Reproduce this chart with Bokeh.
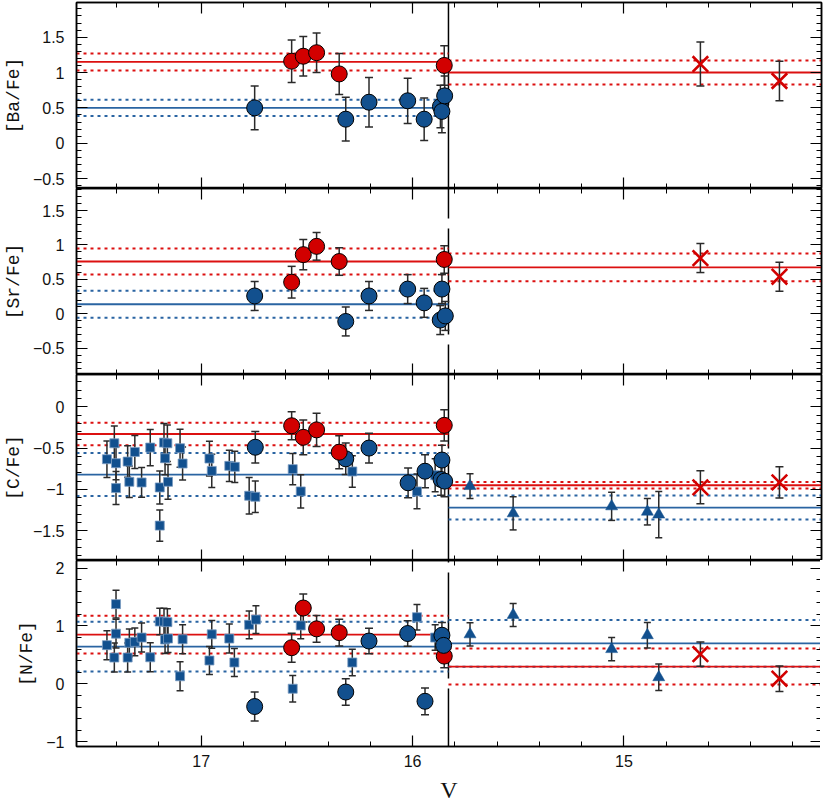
from bokeh.plotting import figure
from bokeh.layouts import column
from bokeh.models import (Range1d, LinearAxis, SingleIntervalTicker,
                          CustomJSTickFormatter)
from bokeh.embed import file_html
from bokeh.resources import INLINE

# ---------------- data ----------------
V_LEFT, V_RIGHT = 17.59, 14.065     # x range (V, reversed)
V_SPLIT = 15.83                      # dashed separator

x_ticks_interval = 1.0
panel_labels = ["[Ba/Fe]", "[Sr/Fe]", "[C/Fe]", "[N/Fe]"]
panel_yranges = [(-0.64, 1.99), (-0.88, 1.82), (-1.86, 0.39), (-1.08, 2.13)]
panel_tick_interval = [0.5, 0.5, 0.5, 1.0]

# red filled circles (same stars in every panel)
red_circ_V = [16.572, 16.517, 16.454, 16.347, 15.850]
ba_red = [1.16, 1.23, 1.28, 0.98, 1.10]
ba_red_err = [0.30, 0.28, 0.28, 0.29, 0.28]
sr_red = [0.46, 0.86, 0.98, 0.76, 0.79]
sr_red_err = [0.23, 0.22, 0.20, 0.20, 0.20]
c_red = [-0.23, -0.37, -0.28, -0.55, -0.225]
c_red_err = [0.17, 0.21, 0.20, 0.20, 0.19]
n_red = [0.625, 1.31, 0.95, 0.885, 0.48]
n_red_err = [0.25, 0.24, 0.23, 0.23, 0.20]

# blue filled circles
ba_blue_V = [16.747, 16.316, 16.206, 16.023, 15.945, 15.868, 15.861, 15.848]
ba_blue = [0.50, 0.34, 0.58, 0.60, 0.34, 0.52, 0.45, 0.67]
ba_blue_err = [0.31, 0.31, 0.35, 0.32, 0.30, 0.30, 0.30, 0.28]
sr_blue_V = [16.747, 16.316, 16.206, 16.023, 15.945, 15.861, 15.869, 15.845]
sr_blue = [0.26, -0.11, 0.26, 0.36, 0.16, 0.36, -0.09, -0.03]
sr_blue_err = [0.21, 0.21, 0.21, 0.21, 0.21, 0.21, 0.21, 0.21]
c_blue_V = [16.744, 16.316, 16.206, 16.021, 15.941, 15.861, 15.865, 15.848]
c_blue = [-0.49, -0.63, -0.50, -0.92, -0.78, -0.645, -0.88, -0.90]
c_blue_err = [0.19, 0.19, 0.18, 0.18, 0.20, 0.18, 0.19, 0.19]
n_blue_V = [16.747, 16.316, 16.206, 16.023, 15.941, 15.861, 15.853]
n_blue = [-0.39, -0.14, 0.74, 0.87, -0.30, 0.84, 0.665]
n_blue_err = [0.25, 0.23, 0.22, 0.22, 0.23, 0.22, 0.22]

# blue squares (fainter stars)
c_sq_V = [17.446, 17.411, 17.403, 17.403, 17.348, 17.340, 17.314, 17.282,
          17.241, 17.196, 17.196, 17.176, 17.171, 17.160, 17.157, 17.100,
          17.088, 16.961, 16.950, 16.867, 16.841, 16.773, 16.744, 16.567,
          16.529, 16.285, 15.979, 15.893]
c_sq = [-0.635, -0.442, -0.683, -0.984, -0.663, -0.908, -0.547, -0.916,
        -0.494, -0.976, -1.438, -0.434, -0.623, -0.442, -0.908, -0.502,
        -0.687, -0.627, -0.776, -0.715, -0.727, -1.077, -1.089, -0.755,
        -1.024, -0.783, -1.024, -0.828]
c_sq_err = [0.22, 0.21, 0.20, 0.20, 0.19, 0.19, 0.20, 0.18, 0.22, 0.20,
            0.19, 0.23, 0.20, 0.22, 0.21, 0.23, 0.20, 0.21, 0.20, 0.19,
            0.19, 0.22, 0.19, 0.19, 0.20, 0.19, 0.21, 0.20]
n_sq_V = [17.446, 17.411, 17.403, 17.403, 17.348, 17.340, 17.314, 17.282,
          17.241, 17.196, 17.176, 17.171, 17.160, 17.157, 17.100, 17.088,
          16.961, 16.950, 16.867, 16.843, 16.773, 16.741, 16.567, 16.529,
          16.285, 15.979, 15.893]
n_sq = [0.669, 0.455, 1.377, 0.868, 0.455, 0.709, 0.726, 0.80, 0.46, 1.077,
        1.077, 0.766, 1.066, 0.783, 0.132, 0.771, 0.404, 0.856, 0.783, 0.37,
        1.02, 1.11, -0.083, 1.009, 0.37, 1.151, 0.80]
n_sq_err = [0.25, 0.25, 0.24, 0.25, 0.25, 0.24, 0.24, 0.25, 0.25, 0.23,
            0.23, 0.24, 0.23, 0.24, 0.25, 0.25, 0.24, 0.24, 0.25, 0.24,
            0.24, 0.24, 0.23, 0.23, 0.23, 0.22, 0.22]

# blue triangles (brighter stars)
tri_V = [15.728, 15.524, 15.058, 14.889, 14.835]
c_tri = [-0.96, -1.29, -1.205, -1.27, -1.305]
c_tri_err = [0.15, 0.20, 0.17, 0.16, 0.28]
n_tri = [0.855, 1.19, 0.60, 0.84, 0.115]
n_tri_err = [0.20, 0.20, 0.20, 0.22, 0.23]

# red crosses (bright stars)
x_V = [14.638, 14.264]
ba_x = [1.12, 0.88]
ba_x_err = [0.31, 0.28]
sr_x = [0.81, 0.54]
sr_x_err = [0.21, 0.21]
c_x = [-0.975, -0.915]
c_x_err = [0.20, 0.19]
n_x = [0.515, 0.09]
n_x_err = [0.21, 0.22]

# mean lines (mean, sigma) : left part (faint) and right part (bright)
ba_means = {"red_left": (1.15, 0.12), "blue_left": (0.50, 0.115), "red_right": (1.00, 0.17)}
sr_means = {"red_left": (0.76, 0.19), "blue_left": (0.14, 0.195), "red_right": (0.675, 0.20)}
c_means = {"red_left": (-0.33, 0.135), "blue_left": (-0.82, 0.26),
           "red_right": (-0.95, 0.04), "blue_right": (-1.22, 0.145)}
n_means = {"blue_left": (0.645, 0.43), "red_left": (0.85, 0.325),
           "blue_right": (0.70, 0.405), "red_right": (0.30, 0.31)}

# ---------------- style ----------------
BLUE = "#12508e"
RED = "#d20000"
BLUE_LINE = "#2a64a2"
RED_LINE = "#dc1010"
ERR = "#2a2a2a"
FW, FH = 745, 186
dash_offsets = [3, 76, 32, 104]

fmt_code = """
const v = Math.round(tick*100)/100;
if (v == 0) return "0";
return (v < 0 ? "\u2212" : "") + Math.abs(v).toString();
"""


def style_axis(ax, show_labels):
    ax.axis_line_color = "black"
    ax.axis_line_width = 1.5
    ax.major_tick_line_color = "black"
    ax.major_tick_line_width = 1.2
    ax.minor_tick_line_color = "black"
    ax.minor_tick_line_width = 1.0
    ax.major_tick_in = 11
    ax.major_tick_out = 0
    ax.minor_tick_in = 5
    ax.minor_tick_out = 0
    if not show_labels:
        ax.formatter = CustomJSTickFormatter(code='return "";')
        ax.major_label_text_font_size = "1px"
        ax.major_label_standoff = 0
    else:
        ax.formatter = CustomJSTickFormatter(code=fmt_code)
        ax.major_label_text_font = "Liberation Sans"
        ax.major_label_text_font_size = "16px"
        ax.major_label_text_color = "#111111"


def errbars(p, xs, ys, es, cap=8):
    lo = [y - e for y, e in zip(ys, es)]
    hi = [y + e for y, e in zip(ys, es)]
    p.segment(x0=xs, y0=lo, x1=xs, y1=hi, line_color=ERR, line_width=1.5)
    p.scatter(x=xs + xs, y=lo + hi, marker="dash", size=cap,
              line_color=ERR, line_width=1.5)


def mean_lines(p, means):
    spans = {"left": (V_LEFT, V_SPLIT), "right": (V_SPLIT, V_RIGHT)}
    for key, (m, s) in means.items():
        col, side = key.split("_")
        c = RED_LINE if col == "red" else BLUE_LINE
        x0, x1 = spans[side]
        p.segment(x0=[x0, x0], y0=[m + s, m - s], x1=[x1, x1], y1=[m + s, m - s],
                  line_color=c, line_width=2, line_dash="3 4")
        p.segment(x0=[x0], y0=[m], x1=[x1], y1=[m], line_color=c, line_width=1.8)


def make_panel(i, is_bottom):
    y0, y1 = panel_yranges[i]
    p = figure(frame_width=FW, frame_height=FH,
               x_range=Range1d(V_LEFT, V_RIGHT), y_range=Range1d(y0, y1),
               output_backend="svg", toolbar_location=None,
               x_axis_location=None, y_axis_location=None,
               min_border_left=72, min_border_right=3,
               min_border_top=2 if i == 0 else 0, min_border_bottom=0)
    p.outline_line_color = "black"
    p.outline_line_width = 1.5
    p.background_fill_color = "white"
    p.border_fill_color = "white"
    p.xgrid.grid_line_color = None
    p.ygrid.grid_line_color = None
    p.grid.visible = False

    left = LinearAxis(ticker=SingleIntervalTicker(interval=panel_tick_interval[i], num_minor_ticks=5),
                      axis_label=panel_labels[i])
    style_axis(left, True)
    left.major_label_standoff = 12
    left.axis_label_standoff = 6
    left.axis_label_text_font = "Liberation Mono"
    left.axis_label_text_font_size = "18px"
    left.axis_label_text_font_style = "normal"
    left.axis_label_text_color = "#111111"
    p.add_layout(left, "left")

    right = LinearAxis(ticker=SingleIntervalTicker(interval=panel_tick_interval[i], num_minor_ticks=5))
    style_axis(right, False)
    p.add_layout(right, "right")

    top = LinearAxis(ticker=SingleIntervalTicker(interval=x_ticks_interval, num_minor_ticks=5))
    style_axis(top, False)
    p.add_layout(top, "above")

    bottom = LinearAxis(ticker=SingleIntervalTicker(interval=x_ticks_interval, num_minor_ticks=5))
    if is_bottom:
        style_axis(bottom, True)
        bottom.major_label_standoff = 8
        bottom.axis_label = "V"
        bottom.axis_label_standoff = 7
        bottom.axis_label_text_font = "Liberation Serif"
        bottom.axis_label_text_font_size = "24px"
        bottom.axis_label_text_font_style = "normal"
        bottom.axis_label_text_color = "#111111"
    else:
        style_axis(bottom, False)
    p.add_layout(bottom, "below")

    # dashed vertical separator, drawn from the top of the panel downwards
    p.segment(x0=[V_SPLIT], y0=[y1], x1=[V_SPLIT], y1=[y0], line_color="black",
              line_width=1.5, line_dash="106 10", line_dash_offset=dash_offsets[i])
    return p


panels = [make_panel(i, i == 3) for i in range(4)]

# ---- panel 1: Ba ----
p = panels[0]
mean_lines(p, ba_means)
errbars(p, ba_blue_V, ba_blue, ba_blue_err)
errbars(p, red_circ_V, ba_red, ba_red_err)
errbars(p, x_V, ba_x, ba_x_err)
p.scatter(ba_blue_V, ba_blue, marker="circle", size=16, fill_color=BLUE, line_color="black", line_width=1)
p.scatter(red_circ_V, ba_red, marker="circle", size=16, fill_color=RED, line_color="black", line_width=1)
p.scatter(x_V, ba_x, marker="x", size=22, line_color=RED, line_width=2.6)

# ---- panel 2: Sr ----
p = panels[1]
mean_lines(p, sr_means)
errbars(p, sr_blue_V, sr_blue, sr_blue_err)
errbars(p, red_circ_V, sr_red, sr_red_err)
errbars(p, x_V, sr_x, sr_x_err)
p.scatter(sr_blue_V, sr_blue, marker="circle", size=16, fill_color=BLUE, line_color="black", line_width=1)
p.scatter(red_circ_V, sr_red, marker="circle", size=16, fill_color=RED, line_color="black", line_width=1)
p.scatter(x_V, sr_x, marker="x", size=22, line_color=RED, line_width=2.6)

# ---- panel 3: C ----
p = panels[2]
mean_lines(p, c_means)
errbars(p, c_sq_V, c_sq, c_sq_err, cap=7)
errbars(p, tri_V, c_tri, c_tri_err, cap=7)
errbars(p, c_blue_V, c_blue, c_blue_err)
errbars(p, red_circ_V, c_red, c_red_err)
errbars(p, x_V, c_x, c_x_err)
p.scatter(c_sq_V, c_sq, marker="square", size=9, fill_color=BLUE, line_color="#7b9cc2", line_width=0.8)
p.scatter(tri_V, c_tri, marker="triangle", size=12, fill_color=BLUE, line_color=BLUE, line_width=0.5)
p.scatter(c_blue_V, c_blue, marker="circle", size=16, fill_color=BLUE, line_color="black", line_width=1)
p.scatter(red_circ_V, c_red, marker="circle", size=16, fill_color=RED, line_color="black", line_width=1)
p.scatter(x_V, c_x, marker="x", size=22, line_color=RED, line_width=2.6)

# ---- panel 4: N ----
p = panels[3]
mean_lines(p, n_means)
errbars(p, n_sq_V, n_sq, n_sq_err, cap=7)
errbars(p, tri_V, n_tri, n_tri_err, cap=7)
errbars(p, red_circ_V, n_red, n_red_err)
errbars(p, n_blue_V, n_blue, n_blue_err)
errbars(p, x_V, n_x, n_x_err)
p.scatter(n_sq_V, n_sq, marker="square", size=9, fill_color=BLUE, line_color="#7b9cc2", line_width=0.8)
p.scatter(tri_V, n_tri, marker="triangle", size=12, fill_color=BLUE, line_color=BLUE, line_width=0.5)
p.scatter(red_circ_V, n_red, marker="circle", size=16, fill_color=RED, line_color="black", line_width=1)
p.scatter(n_blue_V, n_blue, marker="circle", size=16, fill_color=BLUE, line_color="black", line_width=1)
p.scatter(x_V, n_x, marker="x", size=22, line_color=RED, line_width=2.6)

layout = column(*panels, spacing=0)
open("out.html", "w").write(file_html(layout, INLINE))
